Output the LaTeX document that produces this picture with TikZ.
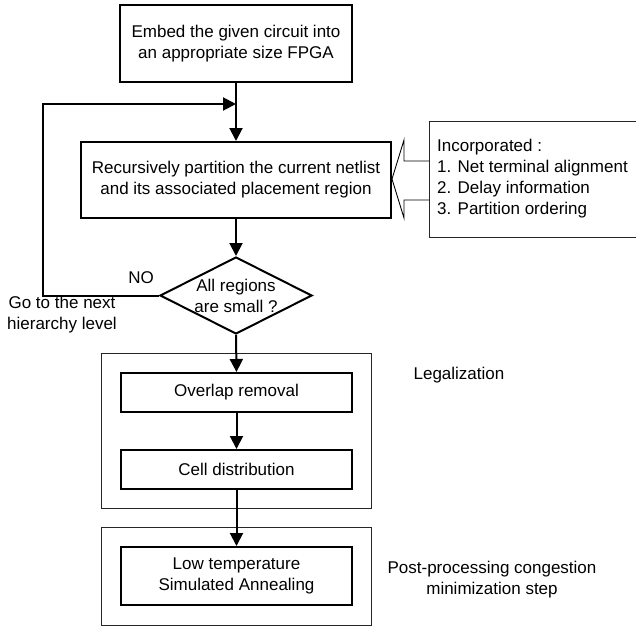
\documentclass[tikz,border=0pt]{standalone}
\usepackage{fontspec}
\setmainfont{Liberation Sans}
\usetikzlibrary{shapes.geometric,arrows.meta}
\begin{document}
\begin{tikzpicture}[x=1pt,y=-1pt,
  every node/.style={font=\fontsize{17}{21}\selectfont},
  procbox/.style={draw,line width=2pt,rectangle,inner sep=0pt,align=center},
  groupbox/.style={draw=black!85,line width=0.9pt},
  flow/.style={line width=2pt,-{Triangle[length=13pt,width=13pt]}},
  txt/.style={inner sep=0pt,align=center}]
\useasboundingbox (0,0) rectangle (636,626);

\node[procbox,minimum width=232pt,minimum height=77pt] (top) at (236,43.5)
  {Embed the given circuit into\\an appropriate size FPGA};
\node[procbox,minimum width=310pt,minimum height=76pt] (part) at (236,180)
  {Recursively partition the current netlist\\and its associated placement region};
\node[diamond,draw,line width=2pt,minimum width=152pt,minimum height=77pt,inner sep=0pt] (dia) at (236,295.5) {};
\node[txt] (diatext) at (dia) {All regions\\are small ?};

% group boxes
\draw[groupbox] (101,353) rectangle (371,508);
\draw[groupbox] (101,527) rectangle (371,625);

\node[procbox,minimum width=231pt,minimum height=39pt] (ovl) at (236.5,392.5) {Overlap removal};
\node[procbox,minimum width=231pt,minimum height=39pt] (cell) at (236.5,469.5) {Cell distribution};
\node[procbox,minimum width=231pt,minimum height=58pt] (sa) at (236.5,576) {Low temperature\\Simulated Annealing};

% flow arrows
\coordinate (join) at (236,104);
\draw[flow] (top.south) -- (part.north);
\draw[flow] (part.south) -- (dia.north);
\draw[flow] (dia.south) -- (ovl.north);
\draw[flow] (ovl.south) -- (cell.north);
\draw[flow] (cell.south) -- (sa.north);
\draw[flow] (dia.west) -- (43,295.5) -- (43,104) -- (join);

% labels
\node[txt] (no) at (141,278) {NO};
\node[txt] (goto) at (62,315) {Go to the next\\hierarchy level};
\node[txt] (legal) at (459,375) {Legalization};
\node[txt] (post) at (492,580) {Post-processing congestion\\minimization step};

% incorporated box
\node[txt,align=left,anchor=west] (inc) at (437,179)
  {Incorporated :\\1. Net terminal alignment\\2. Delay information\\3. Partition ordering};
\draw[groupbox] (640,121) -- (429,121) -- (429,237) -- (640,237);
% hollow arrow
\draw[line width=0.9pt,line join=miter] (429,161) -- (404,161) -- (404,140) -- (part.east |- 0,179) -- (404,218) -- (404,200) -- (429,200);
\end{tikzpicture}
\end{document}
